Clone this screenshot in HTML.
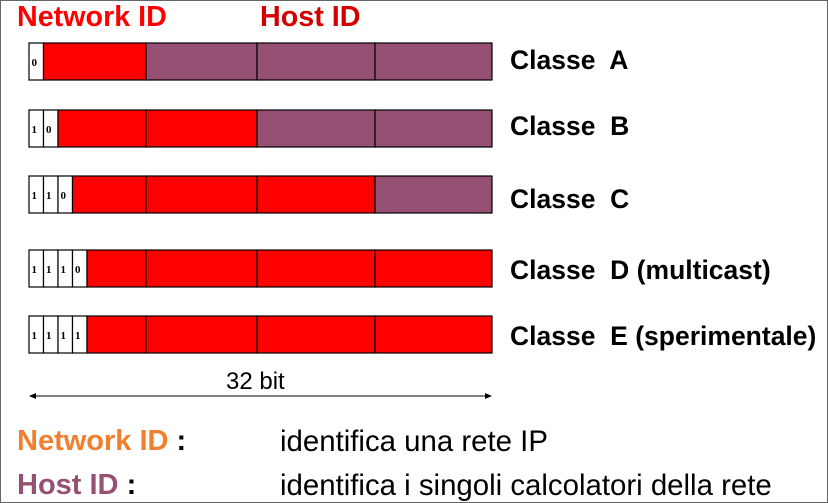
<!DOCTYPE html>
<html><head><meta charset="utf-8"><style>
html,body{margin:0;padding:0}
body{width:828px;height:503px;position:relative;overflow:hidden;background:#fff;font-family:"Liberation Sans",Arial,sans-serif}
.frame{position:absolute;left:0;top:0;width:826px;height:501px;border:1px solid #666}
.t{position:absolute;white-space:pre;line-height:1}
.b{font-weight:bold}
</style></head><body>
<div class="frame"></div>
<div class="t b" style="left:17px;top:3px;font-size:28.7px;color:#f00">Network ID</div>
<div class="t b" style="left:260px;top:3px;font-size:28.7px;color:#d40000">Host ID</div>
<svg width="828" height="503" style="position:absolute;left:0;top:0" font-family="Liberation Serif,serif" font-weight="bold" font-size="11">
<g stroke="#000" stroke-width="1.2">
<rect x="29" y="43" width="14.5" height="37" fill="#fff"/>
<rect x="43.5" y="43" width="102.5" height="37" fill="#f00"/>
<rect x="146" y="43" width="111" height="37" fill="#965073"/>
<rect x="257" y="43" width="118" height="37" fill="#965073"/>
<rect x="375" y="43" width="117" height="37" fill="#965073"/>
<rect x="29" y="110" width="14.5" height="37" fill="#fff"/>
<rect x="43.5" y="110" width="14.5" height="37" fill="#fff"/>
<rect x="58" y="110" width="88" height="37" fill="#f00"/>
<rect x="146" y="110" width="111" height="37" fill="#f00"/>
<rect x="257" y="110" width="118" height="37" fill="#965073"/>
<rect x="375" y="110" width="117" height="37" fill="#965073"/>
<rect x="29" y="176" width="14.5" height="37" fill="#fff"/>
<rect x="43.5" y="176" width="14.5" height="37" fill="#fff"/>
<rect x="58" y="176" width="14.5" height="37" fill="#fff"/>
<rect x="72.5" y="176" width="73.5" height="37" fill="#f00"/>
<rect x="146" y="176" width="111" height="37" fill="#f00"/>
<rect x="257" y="176" width="118" height="37" fill="#f00"/>
<rect x="375" y="176" width="117" height="37" fill="#965073"/>
<rect x="29" y="250" width="14.5" height="37" fill="#fff"/>
<rect x="43.5" y="250" width="14.5" height="37" fill="#fff"/>
<rect x="58" y="250" width="14.5" height="37" fill="#fff"/>
<rect x="72.5" y="250" width="14.5" height="37" fill="#fff"/>
<rect x="87" y="250" width="59" height="37" fill="#f00"/>
<rect x="146" y="250" width="111" height="37" fill="#f00"/>
<rect x="257" y="250" width="118" height="37" fill="#f00"/>
<rect x="375" y="250" width="117" height="37" fill="#f00"/>
<rect x="29" y="316" width="14.5" height="37" fill="#fff"/>
<rect x="43.5" y="316" width="14.5" height="37" fill="#fff"/>
<rect x="58" y="316" width="14.5" height="37" fill="#fff"/>
<rect x="72.5" y="316" width="14.5" height="37" fill="#fff"/>
<rect x="87" y="316" width="59" height="37" fill="#f00"/>
<rect x="146" y="316" width="111" height="37" fill="#f00"/>
<rect x="257" y="316" width="118" height="37" fill="#f00"/>
<rect x="375" y="316" width="117" height="37" fill="#f00"/>
<line x1="34" y1="396" x2="487" y2="396" stroke-width="1"/>
</g>
<polygon points="29,396 36,393 36,399" fill="#000"/>
<polygon points="492,396 485,393 485,399" fill="#000"/>
<g fill="#000">
<text x="31.5" y="66">0</text>
<text x="31.5" y="133">1</text><text x="46" y="133">0</text>
<text x="31.5" y="199">1</text><text x="46" y="199">1</text><text x="60.5" y="199">0</text>
<text x="31.5" y="273">1</text><text x="46" y="273">1</text><text x="60.5" y="273">1</text><text x="75" y="273">0</text>
<text x="31.5" y="339">1</text><text x="46" y="339">1</text><text x="60.5" y="339">1</text><text x="75" y="339">1</text>
</g>
</svg>
<div class="t b" style="left:510px;top:47px;font-size:26.5px">Classe  A</div>
<div class="t b" style="left:510px;top:113px;font-size:26.5px">Classe  B</div>
<div class="t b" style="left:510px;top:186px;font-size:26.5px">Classe  C</div>
<div class="t b" style="left:510px;top:257px;font-size:26.5px">Classe  D (multicast)</div>
<div class="t b" style="left:510px;top:323px;font-size:26.5px">Classe  E (sperimentale)</div>
<div class="t" style="left:226px;top:370px;font-size:24px">32 bit</div>
<div class="t b" style="left:17px;top:427px;font-size:29px;color:#f08030">Network ID <span style="color:#000">:</span></div>
<div class="t b" style="left:17px;top:471px;font-size:29px;color:#965073">Host ID <span style="color:#000">:</span></div>
<div class="t" style="left:280px;top:427px;font-size:29.4px">identifica una rete IP</div>
<div class="t" style="left:280px;top:471px;font-size:29.4px">identifica i singoli calcolatori della rete</div>
</body></html>
